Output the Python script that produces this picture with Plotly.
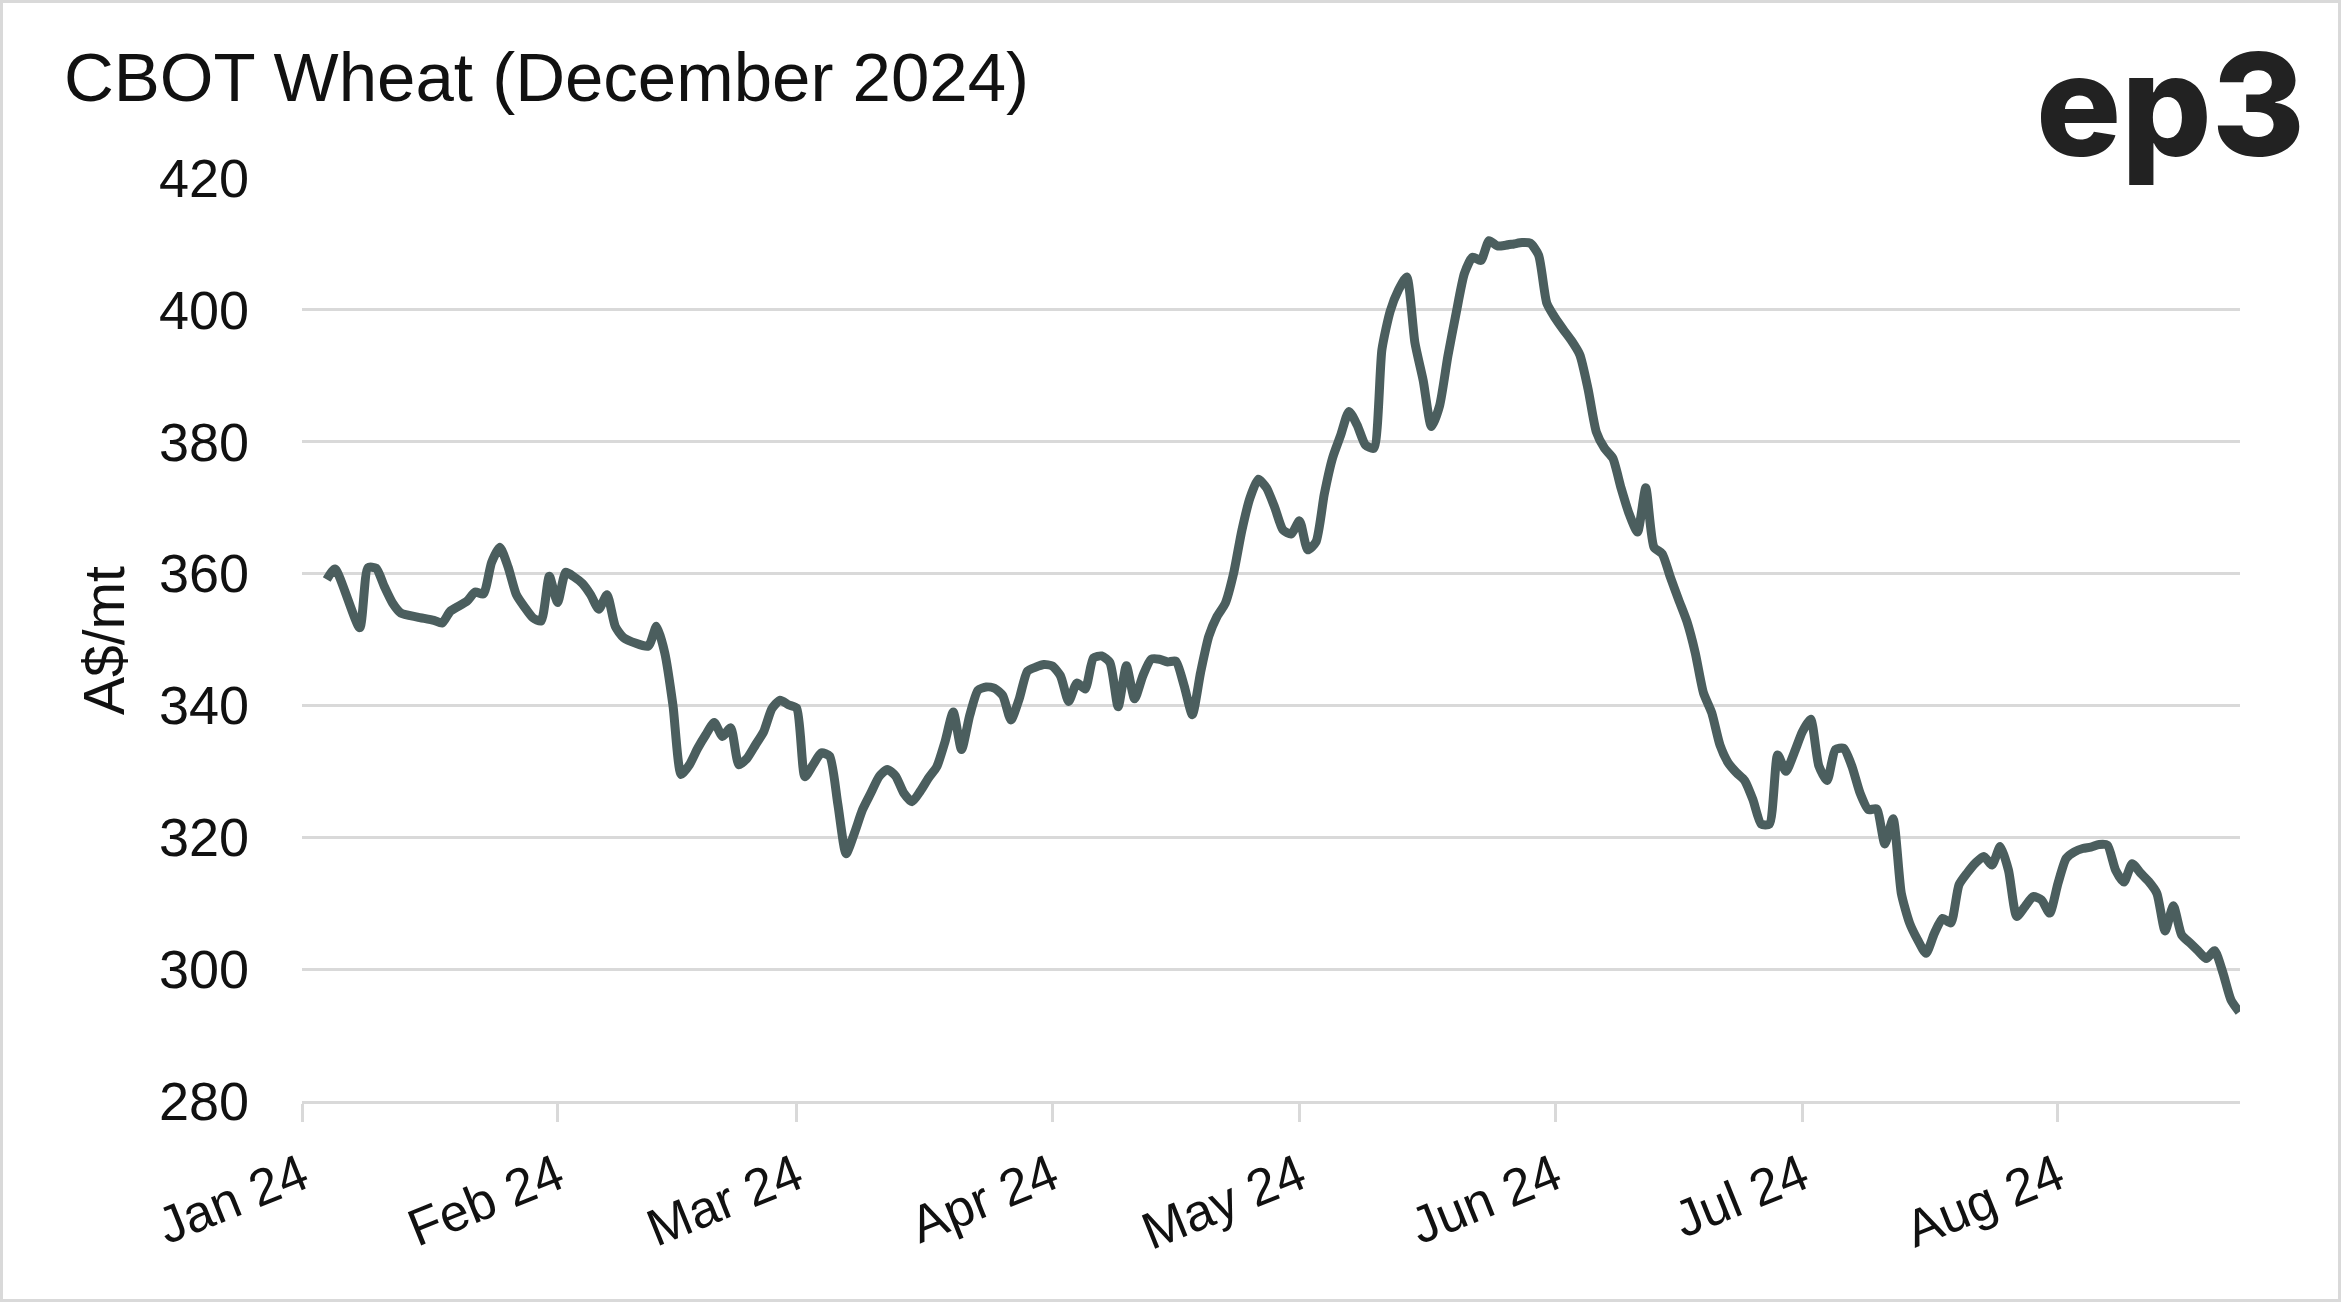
import plotly.graph_objects as go

# ---- data ----
dates = [
    "2024-01-04", "2024-01-05", "2024-01-08", "2024-01-09", "2024-01-10", "2024-01-11",
    "2024-01-12", "2024-01-13", "2024-01-15", "2024-01-17", "2024-01-18", "2024-01-19",
    "2024-01-21", "2024-01-22", "2024-01-23", "2024-01-24", "2024-01-25", "2024-01-26",
    "2024-01-27", "2024-01-28", "2024-01-29", "2024-01-30", "2024-01-31",
    "2024-02-01", "2024-02-02", "2024-02-03", "2024-02-04", "2024-02-05", "2024-02-06",
    "2024-02-07", "2024-02-08", "2024-02-09", "2024-02-12", "2024-02-13", "2024-02-14",
    "2024-02-15", "2024-02-16", "2024-02-17", "2024-02-18", "2024-02-19", "2024-02-20",
    "2024-02-21", "2024-02-22", "2024-02-23", "2024-02-24", "2024-02-25", "2024-02-26",
    "2024-02-27", "2024-02-28", "2024-02-29",
    "2024-03-01", "2024-03-02", "2024-03-03", "2024-03-04", "2024-03-05", "2024-03-06",
    "2024-03-07", "2024-03-08", "2024-03-09", "2024-03-10", "2024-03-11", "2024-03-12",
    "2024-03-13", "2024-03-14", "2024-03-15", "2024-03-16", "2024-03-17", "2024-03-18",
    "2024-03-19", "2024-03-20", "2024-03-21", "2024-03-22", "2024-03-23", "2024-03-24",
    "2024-03-25", "2024-03-26", "2024-03-27", "2024-03-28", "2024-03-29", "2024-03-30",
    "2024-03-31",
    "2024-04-01", "2024-04-02", "2024-04-03", "2024-04-04", "2024-04-05", "2024-04-06",
    "2024-04-07", "2024-04-08", "2024-04-09", "2024-04-10", "2024-04-11", "2024-04-12",
    "2024-04-13", "2024-04-14", "2024-04-15", "2024-04-16", "2024-04-17", "2024-04-18",
    "2024-04-19", "2024-04-20", "2024-04-21", "2024-04-22", "2024-04-23", "2024-04-24",
    "2024-04-25", "2024-04-26", "2024-04-27", "2024-04-28", "2024-04-29", "2024-04-30",
    "2024-05-01", "2024-05-02", "2024-05-03", "2024-05-04", "2024-05-05", "2024-05-06",
    "2024-05-07", "2024-05-08", "2024-05-09", "2024-05-10", "2024-05-11", "2024-05-12",
    "2024-05-13", "2024-05-14", "2024-05-15", "2024-05-16", "2024-05-17", "2024-05-18",
    "2024-05-19", "2024-05-20", "2024-05-21", "2024-05-22", "2024-05-23", "2024-05-24",
    "2024-05-25", "2024-05-26", "2024-05-27", "2024-05-28", "2024-05-29", "2024-05-30",
    "2024-05-31",
    "2024-06-01", "2024-06-02", "2024-06-03", "2024-06-04", "2024-06-05", "2024-06-06",
    "2024-06-07", "2024-06-08", "2024-06-09", "2024-06-10", "2024-06-11", "2024-06-12",
    "2024-06-13", "2024-06-14", "2024-06-15", "2024-06-16", "2024-06-17", "2024-06-18",
    "2024-06-19", "2024-06-20", "2024-06-21", "2024-06-22", "2024-06-23", "2024-06-24",
    "2024-06-25", "2024-06-26", "2024-06-27", "2024-06-28", "2024-06-29", "2024-06-30",
    "2024-07-01", "2024-07-02", "2024-07-03", "2024-07-04", "2024-07-05", "2024-07-06",
    "2024-07-07", "2024-07-08", "2024-07-09", "2024-07-10", "2024-07-11", "2024-07-12",
    "2024-07-13", "2024-07-14", "2024-07-15", "2024-07-16", "2024-07-17", "2024-07-18",
    "2024-07-19", "2024-07-20", "2024-07-21", "2024-07-22", "2024-07-23", "2024-07-24",
    "2024-07-25", "2024-07-26", "2024-07-27", "2024-07-28", "2024-07-29", "2024-07-30",
    "2024-07-31",
    "2024-08-01", "2024-08-02", "2024-08-03", "2024-08-04", "2024-08-05", "2024-08-06",
    "2024-08-07", "2024-08-08", "2024-08-09", "2024-08-10", "2024-08-11", "2024-08-12",
    "2024-08-13", "2024-08-14", "2024-08-15", "2024-08-16", "2024-08-17", "2024-08-18",
    "2024-08-19", "2024-08-20", "2024-08-21", "2024-08-22", "2024-08-23",
]

prices = [
    359.1, 360.7, 351.8, 360.9, 360.8, 358.0,
    355.5, 354.0, 353.4, 352.9, 352.5, 354.3,
    355.8, 357.2, 356.9, 361.7, 364.0, 361.0,
    356.8, 354.9, 353.3, 352.8, 359.6,
    355.6, 360.2, 359.5, 358.5, 356.8, 354.6,
    356.8, 352.0, 350.3, 349.0, 352.0, 348.0,
    340.0, 329.5, 331.0, 333.5, 335.6, 337.4,
    335.3, 336.6, 331.0, 332.0, 334.0, 336.0,
    339.5, 340.8, 340.1,
    339.6, 329.2, 331.0, 332.8, 332.3, 325.0,
    317.5, 320.6, 324.2, 326.7, 329.2, 330.3,
    329.3, 326.7, 325.4, 327.0, 329.0, 330.7,
    334.5, 339.0, 333.3, 338.5, 342.3, 342.8,
    342.6, 341.5, 337.8, 341.0, 345.2, 345.8,
    346.2,
    346.0, 344.5, 340.6, 343.4, 342.5, 347.2,
    347.5, 346.5, 339.8, 346.0, 341.0, 344.5,
    347.0, 347.0, 346.6, 346.7, 343.0, 338.6,
    345.0, 350.5, 353.5, 355.5, 360.0, 366.5,
    371.5, 374.3, 373.0, 370.0, 366.6, 366.0,
    368.0, 363.6, 364.8, 372.0, 377.5, 381.0,
    384.6, 382.5, 379.5, 379.0, 394.0, 399.8,
    403.0, 405.0, 395.0, 389.3, 382.3, 385.5,
    393.0, 399.5, 405.5, 408.0, 407.5, 410.5,
    409.7, 409.8, 410.0, 410.2, 410.1, 408.3,
    401.0,
    398.8, 397.0, 395.3, 393.2, 388.0, 381.5,
    379.0, 377.5, 373.0, 369.0, 366.3, 373.0,
    364.0, 363.0, 359.4, 356.0, 352.7, 348.0,
    341.9, 338.9, 334.0, 331.3, 329.8, 328.6,
    325.7, 322.0, 322.0, 332.5, 330.0, 332.8,
    336.0, 337.9, 330.8, 328.6, 333.3, 333.5,
    330.8, 326.7, 324.2, 324.3, 319.0, 322.8,
    311.5, 307.0, 304.4, 302.4, 305.4, 307.7,
    307.0, 312.8, 314.6, 316.1, 317.1, 315.8,
    318.6, 315.0, 308.0, 309.5, 311.0, 310.5,
    308.5,
    313.0, 316.8, 317.8, 318.3, 318.5, 318.9,
    318.8, 315.0, 313.2, 316.0, 314.6, 313.3,
    311.5, 305.8, 309.6, 305.2, 304.0, 302.8,
    301.6, 302.8, 299.5, 295.3, 293.5,
]

y_ticks = [280, 300, 320, 340, 360, 380, 400, 420]
title_text = "CBOT Wheat (December 2024)"
y_title = "A$/mt"
logo_text = "ep3"

# ---- figure ----
W, H = 2341, 1302
L, R, T, B = 302, 101, 178, 201
PW, PH = W - L - R, H - T - B


def px_x(px):
    return (px - L) / PW


def px_y(py):
    return (H - B - py) / PH


FONT = "Liberation Sans, Arial, sans-serif"
GRID = "#d9d9d9"
TXT = "#111111"

fig = go.Figure()
fig.add_trace(go.Scatter(
    x=dates, y=prices, mode="lines",
    line=dict(color="#4b5e5e", width=9, shape="spline", smoothing=0.6),
    hoverinfo="x+y", showlegend=False,
))

fig.update_layout(
    width=W, height=H, autosize=False,
    margin=dict(l=L, r=R, t=T, b=B, pad=0),
    paper_bgcolor="white", plot_bgcolor="white",
    font=dict(family=FONT, color=TXT),
    xaxis=dict(
        type="date",
        range=["2024-01-01", "2024-08-23 02:00"],
        tick0="2024-01-01", dtick="M1", tickformat="%b %y",
        tickangle=-22, tickfont=dict(size=52, color=TXT),
        ticks="outside", ticklen=18, tickwidth=2.5, tickcolor=GRID,
        showgrid=False, showline=True, linecolor=GRID, linewidth=2.5,
        zeroline=False, ticklabelstandoff=4,
    ),
    yaxis=dict(
        range=[280, 420], tickvals=y_ticks,
        tickfont=dict(size=54, color=TXT),
        showgrid=True, gridcolor=GRID, gridwidth=2.5,
        showline=False, zeroline=False, ticks="",
        ticklabelstandoff=52,
    ),
    annotations=[
        dict(text=title_text, xref="paper", yref="paper",
             x=px_x(62), y=px_y(78), xanchor="left", yanchor="middle",
             showarrow=False, font=dict(size=69, family=FONT, color=TXT)),
        dict(text=y_title, xref="paper", yref="paper",
             x=px_x(104), y=px_y(641), xanchor="center", yanchor="middle",
             textangle=-90, showarrow=False,
             font=dict(size=57, family=FONT, color=TXT)),
        dict(text=logo_text, xref="paper", yref="paper",
             x=px_x(2170), y=px_y(104), xanchor="center", yanchor="middle",
             showarrow=False,
             font=dict(size=142, family="Inter, sans-serif", color="#222222", weight=800)),
    ],
    shapes=[
        dict(type="rect", xref="paper", yref="paper",
             x0=px_x(1.5), x1=px_x(W - 1.5), y0=px_y(H - 1.5), y1=px_y(1.5),
             line=dict(color=GRID, width=3), fillcolor="rgba(0,0,0,0)", layer="below"),
    ],
)

fig.write_html("out.html", config={"displayModeBar": False},
               post_script="document.body.style.margin='0';")
